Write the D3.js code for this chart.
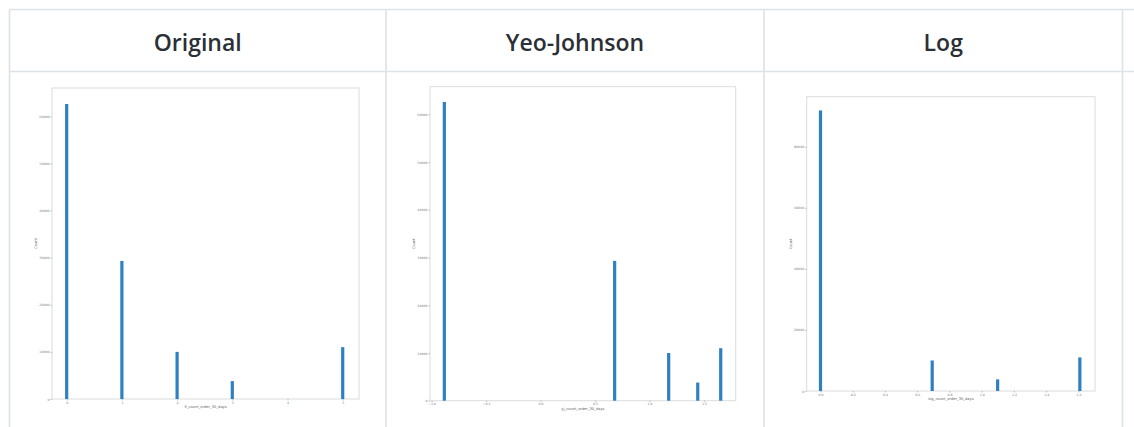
<!DOCTYPE html>
<html>
<head>
<meta charset="utf-8">
<script src="https://cdn.jsdelivr.net/npm/d3@7"></script>
<style>
  body { margin: 0; background: #fff; }
  svg { display: block; }
</style>
</head>
<body>
<div id="chart"></div>
<script>
// column headers
const columnTitles = ['Original', 'Yeo-Johnson', 'Log'];

// Original histogram
const origValues = [0, 1, 2, 3, 5];
const origCounts = [62600, 29300, 10000, 3800, 11000];
const origXTicks = [0, 1, 2, 3, 4, 5];
const origYTicks = [0, 10000, 20000, 30000, 40000, 50000, 60000];

// Yeo-Johnson histogram
const yjValues = [-0.884, 0.680, 1.176, 1.443, 1.654];
const yjCounts = [62600, 29300, 10000, 3800, 11000];
const yjXTicks = [-1.0, -0.5, 0.0, 0.5, 1.0, 1.5];
const yjYTicks = [0, 10000, 20000, 30000, 40000, 50000, 60000];

// Log histogram
const logValues = [0, 0.693, 1.099, 1.609];
const logCounts = [91900, 10000, 3800, 11000];
const logXTicks = [0, 0.2, 0.4, 0.6, 0.8, 1.0, 1.2, 1.4, 1.6];
const logYTicks = [0, 20000, 40000, 60000, 80000];

const xLabels = ['fl_count_order_30_days', 'yj_count_order_30_days', 'log_count_order_30_days'];

const width = 1134, height = 427;
const lineColor = '#dde2e8';
const barColor = '#2f80c2';

const svg = d3.select('#chart').append('svg')
    .attr('width', width)
    .attr('height', height);

// table grid
const colEdges = [9.5, 386, 764, 1122.5];
const topY = 9.5, headerY = 71.5;

svg.append('line').attr('x1', colEdges[0]).attr('x2', width).attr('y1', topY).attr('y2', topY)
    .attr('stroke', lineColor).attr('stroke-width', 1.6);
svg.append('line').attr('x1', colEdges[0]).attr('x2', width).attr('y1', headerY).attr('y2', headerY)
    .attr('stroke', lineColor).attr('stroke-width', 1.6);
colEdges.forEach(x => {
    svg.append('line').attr('x1', x).attr('x2', x).attr('y1', topY).attr('y2', height)
        .attr('stroke', lineColor).attr('stroke-width', 1.6);
});

columnTitles.forEach((t, i) => {
    svg.append('text')
        .attr('x', (colEdges[i] + colEdges[i + 1]) / 2)
        .attr('y', 51)
        .attr('text-anchor', 'middle')
        .attr('font-family', '"Open Sans", "Noto Sans", sans-serif')
        .attr('font-weight', 600)
        .attr('font-size', 23)
        .attr('fill', '#2b2f36')
        .text(t);
});

// panels: layout of each embedded histogram
const panels = [
    {values: origValues, counts: origCounts, xTicks: origXTicks, yTicks: origYTicks,
     box: {left: 52, right: 359, top: 88, bottom: 399}, xDomain: [-0.266, 5.295], yMax: 66000,
     xFmt: d3.format('d'), label: xLabels[0]},
    {values: yjValues, counts: yjCounts, xTicks: yjXTicks, yTicks: yjYTicks,
     box: {left: 430, right: 735.7, top: 86.7, bottom: 400.7}, xDomain: [-1.0156, 1.7915], yMax: 65800,
     xFmt: d3.format('.1f'), label: xLabels[1]},
    {values: logValues, counts: logCounts, xTicks: logXTicks, yTicks: logYTicks,
     box: {left: 806.7, right: 1095, top: 96.7, bottom: 391}, xDomain: [-0.0856, 1.703], yMax: 96400,
     xFmt: d3.format('.1f'), label: xLabels[2]}
];

const tinyFont = '"DejaVu Sans", sans-serif';

panels.forEach(p => {
    const b = p.box;
    const x = d3.scaleLinear().domain(p.xDomain).range([b.left, b.right]);
    const y = d3.scaleLinear().domain([0, p.yMax]).range([b.bottom, b.top]);

    const g = svg.append('g');

    g.append('rect')
        .attr('x', b.left).attr('y', b.top)
        .attr('width', b.right - b.left).attr('height', b.bottom - b.top)
        .attr('fill', 'none').attr('stroke', '#dcdcdc').attr('stroke-width', 1);

    g.selectAll('.bar')
        .data(p.values.map((v, i) => ({v: v, c: p.counts[i]})))
        .enter()
        .append('rect')
        .attr('class', 'bar')
        .attr('x', d => x(d.v) - 1.6)
        .attr('width', 3.2)
        .attr('y', d => y(d.c))
        .attr('height', d => y(0) - y(d.c))
        .attr('fill', barColor);

    // x axis
    const xAxis = g.append('g')
        .attr('transform', `translate(0,${b.bottom})`)
        .call(d3.axisBottom(x).tickValues(p.xTicks).tickFormat(p.xFmt).tickSize(1.5).tickPadding(1));
    // y axis
    const yAxis = g.append('g')
        .attr('transform', `translate(${b.left},0)`)
        .call(d3.axisLeft(y).tickValues(p.yTicks).tickFormat(d3.format('d')).tickSize(1.5).tickPadding(1));

    [xAxis, yAxis].forEach(a => {
        a.select('.domain').remove();
        a.selectAll('line').attr('stroke', '#999').attr('stroke-width', 0.6);
        a.selectAll('text').attr('font-size', 3.2).attr('font-family', tinyFont).attr('fill', '#777');
    });

    g.append('text')
        .attr('x', (b.left + b.right) / 2)
        .attr('y', b.bottom + 9)
        .attr('text-anchor', 'middle')
        .attr('font-family', tinyFont)
        .attr('font-size', 3.6)
        .attr('fill', '#666')
        .text(p.label);

    g.append('text')
        .attr('transform', `translate(${b.left - 15},${(b.top + b.bottom) / 2}) rotate(-90)`)
        .attr('text-anchor', 'middle')
        .attr('font-family', tinyFont)
        .attr('font-size', 3.6)
        .attr('fill', '#666')
        .text('Count');
});
</script>
</body>
</html>
